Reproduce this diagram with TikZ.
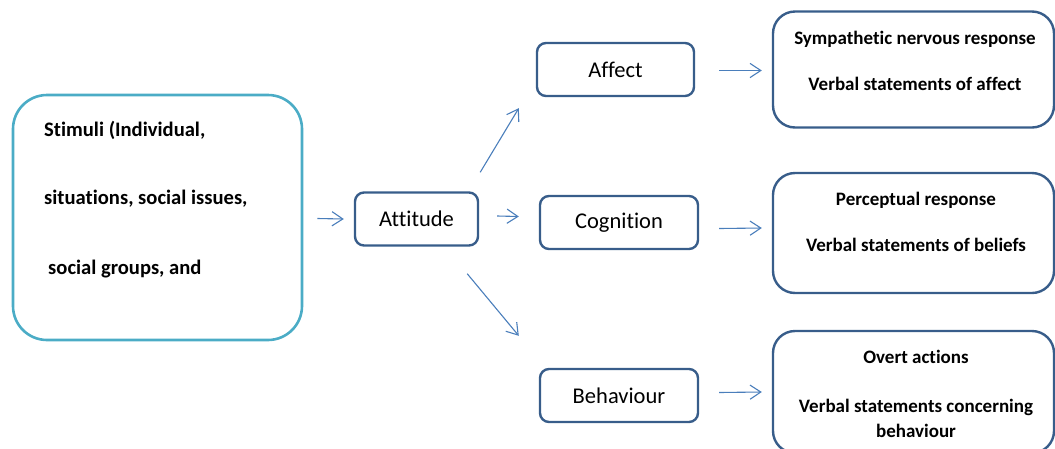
\documentclass[tikz,border=0pt]{standalone}
\usepackage{fontspec}
\setmainfont[Ligatures={NoCommon}]{Carlito}
\usetikzlibrary{arrows.meta,positioning,calc}
\definecolor{stimline}{RGB}{75,172,198}
\definecolor{boxline}{RGB}{56,93,138}
\definecolor{arrline}{RGB}{74,126,187}

\begin{document}
\begin{tikzpicture}[x=1pt,y=-1pt,
  >={Straight Barb[length=3.8mm,width=5mm]},
  stim/.style={draw=stimline, line width=2.6pt, rounded corners=34pt, minimum width=289pt, minimum height=245pt, inner sep=0pt},
  mid/.style={draw=boxline, line width=2.4pt, rounded corners=9pt, minimum height=53pt, inner sep=0pt, font=\fontsize{22.5}{26}\selectfont},
  resp/.style={draw=boxline, line width=2.4pt, rounded corners=22pt, minimum width=281pt, inner sep=0pt},
  rtxt/.style={font=\bfseries\fontsize{19}{22}\selectfont, inner sep=0pt},
  stxt/.style={font=\bfseries\fontsize{20.6}{24}\selectfont, inner sep=0pt, anchor=west},
  arr/.style={->, arrline, line width=1.1pt},
]
\useasboundingbox (0,0) rectangle (1055,448);
% boxes
\node[stim] (S) at (157.5,217.5) {};
\node[mid, minimum width=123pt] (A)  at (416.5,219) {Attitude};
\node[mid, minimum width=157pt] (Af) at (615.5,69.5) {Affect};
\node[mid, minimum width=158pt] (Co) at (619,222.5) {Cognition};
\node[mid, minimum width=158pt] (Be) at (619,395.5) {Behaviour};
\node[resp, minimum height=116pt] (R1) at (913.5,69.5) {};
\node[resp, minimum height=120pt] (R2) at (913.5,233) {};
\node[resp, minimum height=122pt] (R3) at (913.5,392) {};
% texts
\node[stxt] (s1) at (44,130) {Stimuli (Individual,};
\node[stxt] (s2) at (44,199) {situations,\ social issues,};
\node[stxt] (s3) at (48,269) {social groups,\ and};
\node[rtxt] (r1a) at (915,39) {Sympathetic nervous response};
\node[rtxt] (r1b) at (915,84) {Verbal statements of affect};
\node[rtxt] (r2a) at (916,200) {Perceptual response};
\node[rtxt] (r2b) at (916,245) {Verbal statements of beliefs};
\node[rtxt] (r3a) at (916,357) {Overt actions};
\node[rtxt] (r3b) at (916,407) {Verbal statements concerning};
\node[rtxt] (r3c) at (916,431) {behaviour};
% arrows
\draw[arr] ($(S.east)+(14,1)$) -- ($(A.west)+(-10,0)$);
\draw[arr] ($(A.north east)+(1,-19)$) -- ($(Af.south west)+(-17,11)$);
\draw[arr] ($(A.east)+(18,-3)$) -- ($(Co.west)+(-20,-6)$);
\draw[arr] ($(A.south east)+(-12,27)$) -- ($(Be.north west)+(-20,-32)$);
\draw[arr] ($(Af.east)+(24,1)$) -- ($(R1.west)+(-10,1)$);
\draw[arr] ($(Co.east)+(20,6)$) -- ($(R2.west)+(-10,-5)$);
\draw[arr] ($(Be.east)+(20,-3)$) -- ($(R3.west)+(-10,0)$);
\end{tikzpicture}
\end{document}
